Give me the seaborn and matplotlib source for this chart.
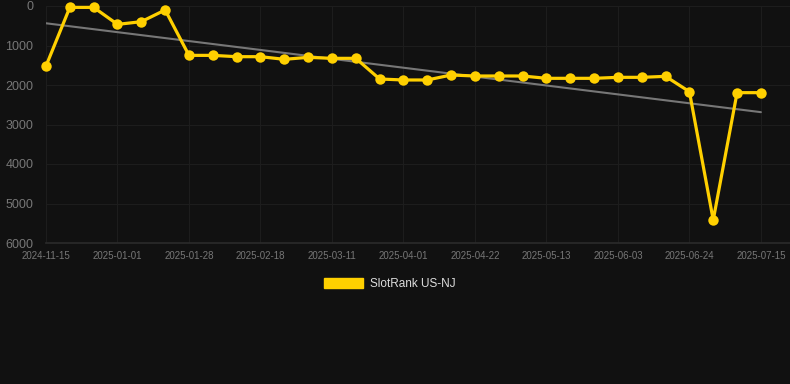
import numpy as np
import pandas as pd
import seaborn as sns
import matplotlib
matplotlib.use("Agg")
import matplotlib.pyplot as plt
from matplotlib.patches import Patch

ranks = [1520, 35, 35, 465, 397, 100, 1250, 1250, 1283, 1283, 1350, 1300, 1325, 1325,
         1848, 1873, 1873, 1747, 1772, 1772, 1772, 1831, 1831, 1831, 1806, 1806, 1781,
         2169, 5418, 2194, 2194]
tick_labels = ["2024-11-15", "2025-01-01", "2025-01-28", "2025-02-18", "2025-03-11",
               "2025-04-01", "2025-04-22", "2025-05-13", "2025-06-03", "2025-06-24",
               "2025-07-15"]
series_name = "SlotRank US-NJ"

df = pd.DataFrame({"idx": np.arange(len(ranks)), "rank": ranks})

bg = "#111111"
gold = "#FFD000"
sns.set_theme(style="dark")
plt.rcParams["font.family"] = ["Liberation Sans", "DejaVu Sans"]

fig = plt.figure(figsize=(7.9, 3.84), dpi=100, facecolor=bg)
ax = fig.add_axes([46/790, (384-243)/384, 1 - 46/790, (243-6)/384])
ax.set_facecolor(bg)

# trend line
coef = np.polyfit(df["idx"], df["rank"], 1)
trend = np.polyval(coef, df["idx"])
sns.lineplot(x=df["idx"], y=trend, ax=ax, color="#777777", linewidth=1.5, zorder=2)

sns.lineplot(data=df, x="idx", y="rank", ax=ax, color=gold, linewidth=2.3,
             marker="o", markersize=7.5, markeredgewidth=0, zorder=3, clip_on=False)

ax.set_xlim(0, (790-46)/23.83)
ax.set_ylim(6000, 0)
ticks = np.arange(0, len(ranks), 3)
ax.set_xticks(ticks)
ax.set_xticklabels(tick_labels)
ax.set_yticks(np.arange(0, 6001, 1000))
ax.tick_params(axis="x", colors="#777777", labelsize=7, length=0, pad=6)
ax.tick_params(axis="y", colors="#777777", labelsize=9, length=0, pad=9)
ax.grid(True, color="#1d1d1d", linewidth=0.8)
for s in ["top", "right", "left"]:
    ax.spines[s].set_visible(False)
ax.spines["bottom"].set_color("#2a2a2a")
ax.set_xlabel("")
ax.set_ylabel("")

fig.legend(handles=[Patch(facecolor=gold, edgecolor=gold)], labels=[series_name],
           loc="center", bbox_to_anchor=(390/790, 1 - 284/384), frameon=False,
           fontsize=8.5, labelcolor="#dddddd", handlelength=3.3, handleheight=1.0,
           handletextpad=0.6)

fig.savefig("out.png", dpi=100, facecolor=bg)
